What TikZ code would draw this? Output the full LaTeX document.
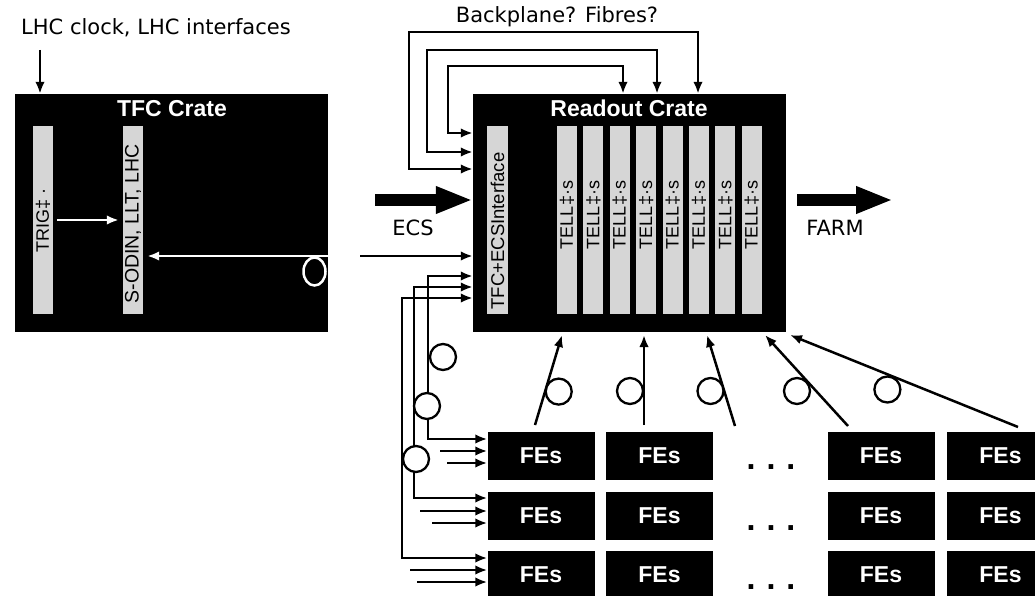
\documentclass[tikz,border=0pt]{standalone}
\usepackage{fontspec}
\setmainfont{Liberation Sans}
\newfontfamily\dv{DejaVu Sans}
\usetikzlibrary{arrows.meta}
\begin{document}
\begin{tikzpicture}[x=1pt,y=-1pt,
  >={Latex[length=12pt,width=9.5pt]},
  arr/.style={->, line width=2.5pt},
  barr/.style={<->, line width=2.5pt},
  warr/.style={->, white, line width=2.5pt},
  crate/.style={fill=black, inner sep=0pt, minimum width=313pt, minimum height=238pt},
  bar/.style={fill=black!16, inner sep=0pt, minimum width=20pt, minimum height=188pt},
  blabel/.style={rotate=90, inner sep=0pt, font=\fontsize{17}{17}\selectfont},
  title/.style={text=white, anchor=base, inner sep=0pt, font=\bfseries\fontsize{23}{23}\selectfont},
  fe/.style={fill=black, text=white, inner sep=0pt, minimum width=107pt, minimum height=48pt, font=\bfseries\fontsize{23}{23}\selectfont},
  lbl/.style={anchor=base, inner sep=0pt, font=\dv\fontsize{21}{21}\selectfont},
  dots/.style={inner sep=0pt, font=\dv\bfseries\fontsize{26}{26}\selectfont},
  fibre/.style={circle, draw, fill=white, line width=2.3pt, minimum size=26pt, inner sep=0pt},
  fat/.style={line width=12pt, -{Triangle[length=37pt,width=25pt]}}
]
\useasboundingbox (0,0) rectangle (1035,596);
\clip (0,0) rectangle (1035,596);

% ---------- TFC crate ----------
\node[lbl] (lhctxt) at (156,35) {LHC clock, LHC interfaces};
\node[crate] (tfc) at (171.5,213) {};
\node[title] (tfct) at (172,117) {TFC Crate};
\node[bar] (trig) at (43,220) {};
\node[bar] (sodin) at (133,220) {};
\node[blabel, font=\fontsize{18}{18}\selectfont] (trigt) at (43,220) {TRIG‡ ·};
\node[blabel, font=\fontsize{19.5}{19.5}\selectfont] (sodint) at (133,224) {S-ODIN, LLT, LHC};
\coordinate (lhc0) at (40,50);
\draw[arr] (lhc0) -- (lhc0 |- tfc.north);
\draw[warr] ([xshift=4pt]trig.east) -- ([xshift=-4pt]sodin.west);
\coordinate (sodinin) at ([xshift=4pt]sodin.east);
\coordinate (tfcout) at (330,256);
\draw[warr] (tfcout) -- (sodinin |- tfcout);
\draw[white, line width=2.5pt] (314.5,271.5) ellipse [x radius=11, y radius=14];

% ---------- Readout crate ----------
\node[crate] (ro) at (629.5,213) {};
\node[title] (rot) at (629,117) {Readout Crate};
\node[bar, minimum width=21pt] (ifc) at (497.5,220) {};
\node[blabel, font=\fontsize{18.5}{18.5}\selectfont] (ifct) at (497.5,231) {TFC+ECSInterface};
\foreach \i in {0,...,7} {
  \node[bar] (tell\i) at ({567+26.4*\i},220) {};
  \node[blabel, font=\fontsize{18}{18}\selectfont] (tellt\i) at ({567+26.4*\i},215) {TELL‡·s};
}

% backplane / fibres
\node[lbl] (bp) at (557,23) {Backplane? Fibres?};
\draw[barr] (ro.west |- 0,169) -| (409,32) -| (ro.north -| 698,0);
\draw[barr] (ro.west |- 0,152) -| (427,50) -| (ro.north -| 657,0);
\draw[barr] (ro.west |- 0,133) -| (448,66) -| (ro.north -| 623,0);

% ECS and FARM
\coordinate (ecs0) at (375,200);
\draw[fat] (ecs0) -- (ro.west |- ecs0);
\node[lbl] (ecst) at (413,235) {ECS};
\coordinate (farm0) at (797,200);
\coordinate (farm1) at (893,200);
\draw[fat] (farm0) -- (farm1);
\node[lbl] (farmt) at (835,235) {FARM};

% TFC -> readout
\coordinate (t0) at (360,256);
\draw[arr] (t0) -- (ro.west |- t0);

% ---------- FEs ----------
\foreach \r/\y in {1/456,2/515.5,3/575} {
  \foreach \c/\x in {1/541,2/659.5,3/881,4/1000.5} {
    \node[fe] (fe\r\c) at (\x,\y) {FEs};
  }
}
\foreach \y in {467,528,587} {
  \node[dots] at (771,\y) {.\hspace{10pt}.\hspace{10pt}.};
}

% feeders from the readout crate interface to FE rows
\draw[barr] (ro.west |- 0,276) -| (428,439) -- (fe11.west |- 0,439);
\draw[barr] (ro.west |- 0,287) -| (414,498) -- (fe21.west |- 0,498);
\draw[barr] (ro.west |- 0,298) -| (402,558) -- (fe31.west |- 0,558);
\foreach \r/\x/\y in {1/440/451, 1/447/463, 2/420/511, 2/432/523, 3/410/570, 3/417/582} {
  \coordinate (in\r\x) at (\x,\y);
  \draw[arr] (in\r\x) -- (fe\r1.west |- in\r\x);
}
\node[fibre] (fa) at (443,357) {};
\node[fibre] (fb) at (427,406) {};
\node[fibre] (fc) at (416,459) {};

% FE -> readout crate links
\foreach \i/\sx/\sy/\ex in {1/535/425/562, 2/644/425/644, 3/735/426/707, 4/848/426/765, 5/1018/427/790} {
  \coordinate (up\i) at (\sx,\sy);
  \coordinate (upe\i) at (\ex,335);
  \draw[arr] (up\i) -- (upe\i);
}
\node[fibre] (f1) at (558.7,391.6) {};
\node[fibre] (f2) at (630,391) {};
\node[fibre] (f3) at (710.5,391) {};
\node[fibre] (f4) at (797,391) {};
\node[fibre] (f5) at (887.4,389.5) {};
\end{tikzpicture}
\end{document}
